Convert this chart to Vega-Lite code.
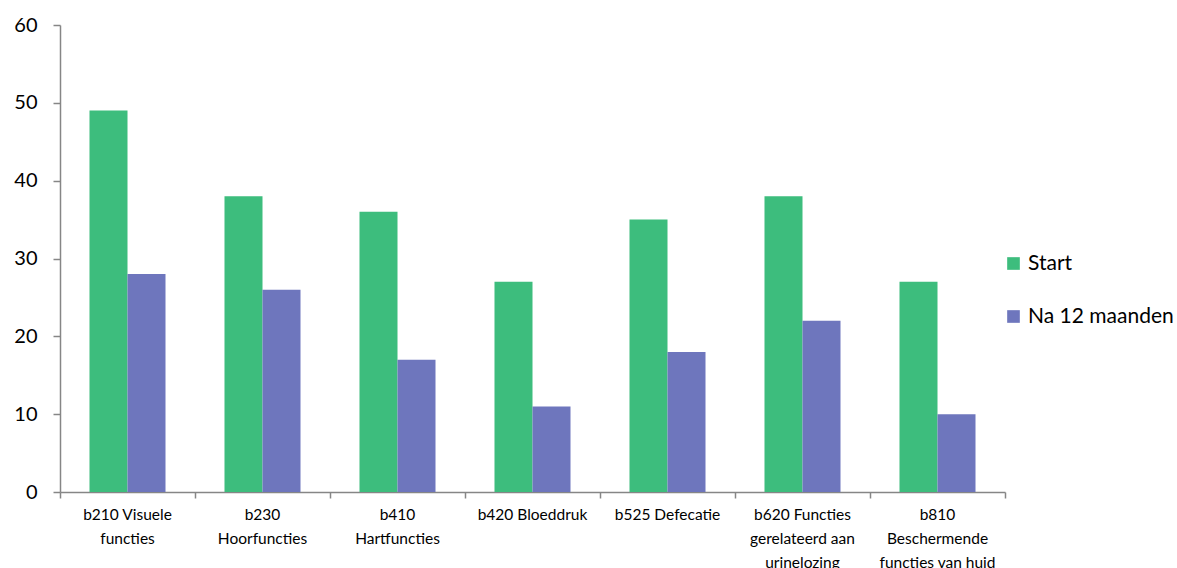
{
  "$schema": "https://vega.github.io/schema/vega-lite/v6.json",
  "width": 945,
  "height": 467,
  "autosize": "none",
  "padding": {"left": 60, "top": 25, "right": 172, "bottom": 76},
  "background": "white",
  "config": {"view": {"stroke": null}, "font": "Lato"},
  "data": {"values": [
    {"cat": "b210 Visuele|functies", "serie": "Start", "value": 49},
    {"cat": "b210 Visuele|functies", "serie": "Na 12 maanden", "value": 28},
    {"cat": "b230|Hoorfuncties", "serie": "Start", "value": 38},
    {"cat": "b230|Hoorfuncties", "serie": "Na 12 maanden", "value": 26},
    {"cat": "b410|Hartfuncties", "serie": "Start", "value": 36},
    {"cat": "b410|Hartfuncties", "serie": "Na 12 maanden", "value": 17},
    {"cat": "b420 Bloeddruk", "serie": "Start", "value": 27},
    {"cat": "b420 Bloeddruk", "serie": "Na 12 maanden", "value": 11},
    {"cat": "b525 Defecatie", "serie": "Start", "value": 35},
    {"cat": "b525 Defecatie", "serie": "Na 12 maanden", "value": 18},
    {"cat": "b620 Functies|gerelateerd aan|urinelozing", "serie": "Start", "value": 38},
    {"cat": "b620 Functies|gerelateerd aan|urinelozing", "serie": "Na 12 maanden", "value": 22},
    {"cat": "b810|Beschermende|functies van huid", "serie": "Start", "value": 27},
    {"cat": "b810|Beschermende|functies van huid", "serie": "Na 12 maanden", "value": 10}
  ]},
  "mark": {"type": "bar"},
  "encoding": {
    "x": {
      "field": "cat", "type": "nominal", "sort": null, "title": null,
      "scale": {"paddingInner": 0, "paddingOuter": 0},
      "axis": {
        "labelExpr": "split(datum.label, '|')",
        "labelAngle": 0, "labelFontSize": 15.5, "labelColor": "#000000",
        "labelPadding": 9, "labelLineHeight": 24, "labelLimit": 200,
        "bandPosition": 1, "tickExtra": true,
        "domainColor": "#868686", "tickColor": "#868686",
        "tickSize": 6, "domainWidth": 1.5, "tickWidth": 1.5, "labelBaseline": "top"
      }
    },
    "xOffset": {
      "field": "serie", "type": "nominal", "sort": ["Start", "Na 12 maanden"],
      "scale": {"paddingInner": 0, "paddingOuter": 0.776}
    },
    "y": {
      "field": "value", "type": "quantitative", "title": null,
      "scale": {"domain": [0, 60], "nice": false},
      "axis": {
        "values": [0, 10, 20, 30, 40, 50, 60], "grid": false,
        "labelFontSize": 20, "labelColor": "#000000", "labelPadding": 16,
        "domainColor": "#868686", "tickColor": "#868686", "tickSize": 7,
        "domainWidth": 1.5, "tickWidth": 1.5
      }
    },
    "color": {
      "field": "serie", "type": "nominal", "sort": ["Start", "Na 12 maanden"],
      "scale": {"domain": ["Start", "Na 12 maanden"], "range": ["#3dbd7d", "#6e76bd"]},
      "legend": {
        "title": null, "orient": "none", "legendX": 943, "legendY": 228,
        "symbolType": "square", "symbolSize": 160, "symbolStrokeWidth": 0,
        "labelFontSize": 21, "labelColor": "#000000", "rowPadding": 31, "labelOffset": 4
      }
    }
  }
}
